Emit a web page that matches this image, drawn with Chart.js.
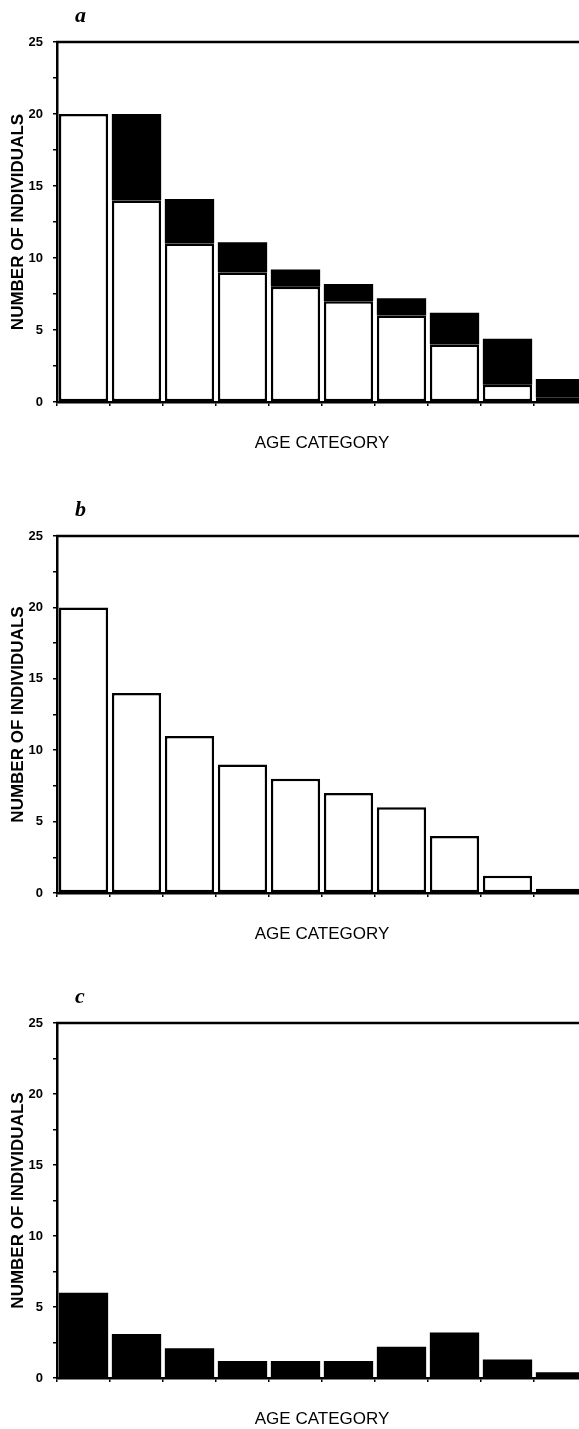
<!DOCTYPE html>
<html>
<head>
<meta charset="utf-8">
<script src="https://cdn.jsdelivr.net/npm/chart.js@4/dist/chart.umd.min.js"></script>
<style>
  html, body { margin: 0; padding: 0; background: #fff; overflow: hidden; }
  .panel { position: absolute; left: 0; width: 590px; }
</style>
</head>
<body>
<div class="panel" style="top:0;height:457px"><canvas id="chartA"></canvas></div>
<div class="panel" style="top:494px;height:454px"><canvas id="chartB"></canvas></div>
<div class="panel" style="top:981px;height:452px"><canvas id="chartC"></canvas></div>
<script>
// Age categories (no labels printed on the axis)
const ageCategories = ["1", "2", "3", "4", "5", "6", "7", "8", "9", "10"];

// Open bars (panel a bottom segment, panel b)
const openCounts = [20, 14, 11, 9, 8, 7, 6, 4, 1.2, 0.3];
// Filled segment stacked on top of the open bars in panel a
const filledOnTopA = [0, 6, 3.1, 2.1, 1.2, 1.2, 1.2, 2.2, 3.2, 1.3];
// Filled bars of panel c
const filledCounts = [6, 3.1, 2.1, 1.2, 1.2, 1.2, 2.2, 3.2, 1.3, 0.4];

const yMax = 25;
const yStep = 2.5;

// Top frame line and panel letter
const framePlugin = {
  id: "frame",
  afterDraw(chart, args, opts) {
    const { ctx, chartArea } = chart;
    ctx.save();
    ctx.strokeStyle = "#000";
    ctx.lineWidth = 2.5;
    ctx.beginPath();
    ctx.moveTo(chartArea.left - 1, chartArea.top);
    ctx.lineTo(chart.width, chartArea.top);
    ctx.stroke();
    ctx.fillStyle = "#000";
    ctx.font = 'italic bold 22px "Liberation Serif", "DejaVu Serif", serif';
    ctx.textBaseline = "alphabetic";
    ctx.fillText(opts.letter, chartArea.left + 18, chartArea.top - 20);
    ctx.restore();
  }
};

function openBars(data) {
  return {
    data: data,
    backgroundColor: "#fff",
    borderColor: "#000",
    borderWidth: 2.5,
    borderSkipped: false
  };
}

function filledBars(data) {
  return {
    data: data,
    backgroundColor: "#000",
    borderWidth: 0
  };
}

function makePanel(id, letter, datasets, stacked) {
  const ctx = document.getElementById(id).getContext("2d");
  return new Chart(ctx, {
    type: "bar",
    data: {
      labels: ageCategories,
      datasets: datasets.map(d => Object.assign({ barPercentage: 0.93, categoryPercentage: 1 }, d))
    },
    options: {
      responsive: true,
      maintainAspectRatio: false,
      animation: false,
      layout: { padding: { top: 42, left: 0, right: 3, bottom: 0 } },
      plugins: {
        legend: { display: false },
        tooltip: { enabled: false },
        frame: { letter: letter }
      },
      scales: {
        x: {
          stacked: stacked,
          afterFit: s => { s.height = 55; },
          border: { display: true, color: "#000", width: 2.5 },
          grid: { offset: true, drawOnChartArea: false, drawTicks: true, tickLength: 4, color: "#000", lineWidth: 1.5 },
          ticks: { display: false },
          title: {
            display: true,
            text: "AGE CATEGORY",
            color: "#000",
            font: { family: '"Liberation Sans", Arial, sans-serif', size: 17 },
            padding: { top: 0, bottom: 3 }
          }
        },
        y: {
          stacked: stacked,
          min: 0,
          max: yMax,
          afterFit: s => { s.width = 57; },
          border: { display: true, color: "#000", width: 2.5 },
          grid: { drawOnChartArea: false, drawTicks: true, tickLength: 4, color: "#000", lineWidth: 1.5 },
          ticks: {
            stepSize: yStep,
            autoSkip: false,
            padding: 10,
            color: "#000",
            font: { family: '"Liberation Sans", Arial, sans-serif', size: 13, weight: "bold" },
            callback: v => (v % 5 === 0 ? v : "")
          },
          title: {
            display: true,
            text: "NUMBER OF INDIVIDUALS",
            color: "#000",
            font: { family: '"Liberation Sans", Arial, sans-serif', size: 17, weight: "bold" },
            padding: { top: 8, bottom: 0 }
          }
        }
      }
    },
    plugins: [framePlugin]
  });
}

makePanel("chartA", "a", [openBars(openCounts), filledBars(filledOnTopA)], true);
makePanel("chartB", "b", [openBars(openCounts)], false);
makePanel("chartC", "c", [filledBars(filledCounts)], false);
</script>
</body>
</html>
